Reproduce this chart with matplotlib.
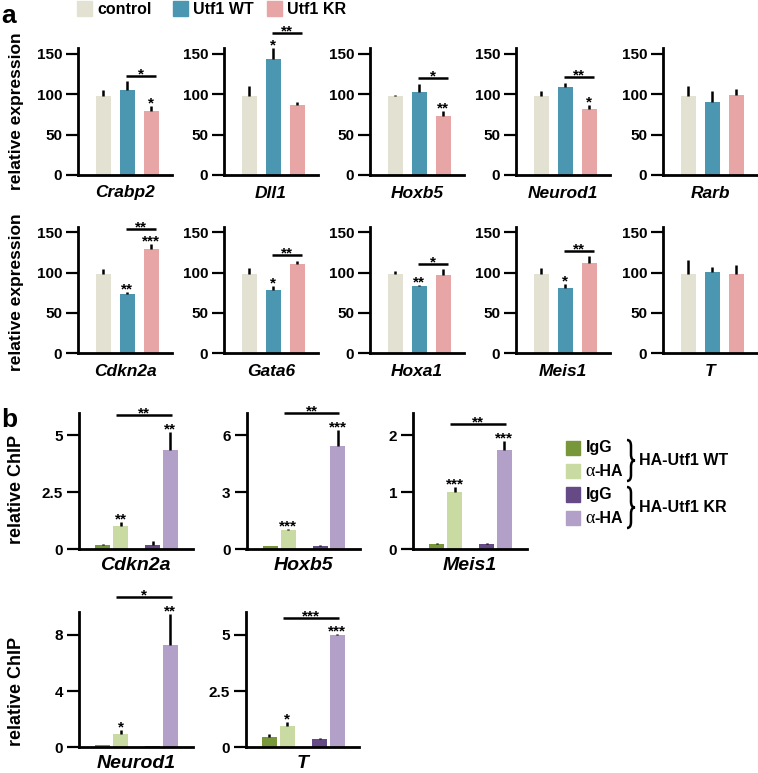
import matplotlib
matplotlib.use('Agg')
import matplotlib.pyplot as plt
from matplotlib.patches import Rectangle, PathPatch
from matplotlib.path import Path

plt.rcParams['font.family'] = ['Liberation Sans', 'DejaVu Sans']
plt.rcParams['font.weight'] = 'bold'

# ---- panel a data (relative expression) ----
a_groups = ['control', 'Utf1 WT', 'Utf1 KR']
a_colors = ['#e3e1d1', '#4b96b1', '#e7a6a5']

a1_genes = ['Crabp2', 'Dll1', 'Hoxb5', 'Neurod1', 'Rarb']
a1_control = [98, 98, 98, 98, 98]
a1_control_err = [7, 12, 1, 6, 12]
a1_wt = [105, 143, 102, 108.5, 90]
a1_wt_err = [11, 14, 11, 5.5, 14]
a1_kr = [79, 86, 73, 81, 98.5]
a1_kr_err = [6, 4, 6.5, 6, 8]
a1_wt_sig = ['', '*', '', '', '']
a1_kr_sig = ['*', '', '**', '*', '']
a1_pair_sig = ['*', '**', '*', '**', '']

a2_genes = ['Cdkn2a', 'Gata6', 'Hoxa1', 'Meis1', 'T']
a2_control = [98, 98, 98.5, 98, 98]
a2_control_err = [7, 8, 4, 8, 18]
a2_wt = [73.5, 78, 83.5, 80.5, 100.5]
a2_wt_err = [3, 5, 1, 5.5, 6]
a2_kr = [129, 111, 97.5, 111.5, 98]
a2_kr_err = [6, 4, 6.5, 9, 11]
a2_wt_sig = ['**', '*', '**', '*', '']
a2_kr_sig = ['***', '', '', '', '']
a2_pair_sig = ['**', '**', '*', '**', '']

a_yticks = [0, 50, 100, 150]

# ---- panel b data (relative ChIP) ----
b_groups = ['IgG', 'α-HA', 'IgG', 'α-HA']
b_colors = ['#77973a', '#c9dba2', '#664a86', '#b2a0c8']
b_genes = ['Cdkn2a', 'Hoxb5', 'Meis1', 'Neurod1', 'T']
b_igg_wt = [0.2, 0.18, 0.09, 0.16, 0.47]
b_igg_wt_err = [0.05, 0.02, 0.02, 0.03, 0.12]
b_ha_wt = [1.02, 1.0, 1.0, 0.94, 0.96]
b_ha_wt_err = [0.18, 0.08, 0.1, 0.3, 0.17]
b_igg_kr = [0.2, 0.18, 0.1, 0.08, 0.35]
b_igg_kr_err = [0.15, 0.05, 0.01, 0.01, 0.07]
b_ha_kr = [4.37, 5.43, 1.75, 7.3, 5.0]
b_ha_kr_err = [0.8, 0.87, 0.16, 2.2, 0.03]
b_ha_wt_sig = ['**', '***', '***', '*', '*']
b_ha_kr_sig = ['**', '***', '***', '**', '***']
b_pair_sig = ['**', '**', '**', '*', '***']
b_yticks = [[0, 2.5, 5], [0, 3, 6], [0, 1, 2], [0, 4, 8], [0, 2.5, 5]]
b_ymax = [6.0, 7.2, 2.4, 9.6, 6.0]

W, H = 758, 773
fig = plt.figure(figsize=(W / 100, H / 100), dpi=100)


def add_ax(left, top, right, bottom):
    return fig.add_axes([left / W, 1 - bottom / H, (right - left) / W, (bottom - top) / H])


def style(ax, yticks, ymax):
    for s in ['top', 'right']:
        ax.spines[s].set_visible(False)
    for s in ['left', 'bottom']:
        ax.spines[s].set_linewidth(2)
    ax.set_ylim(0, ymax)
    ax.set_yticks(yticks)
    ax.set_yticklabels([f'{t:g}' for t in yticks])
    ax.tick_params(axis='y', length=8.5, width=1.6, labelsize=11, pad=3)
    ax.tick_params(axis='x', length=0, labelbottom=False)
    ax.patch.set_alpha(0)


def mark(ax, x, y, txt, dy_px):
    if txt:
        ax.annotate(txt, xy=(x, y), xytext=(0, dy_px * 0.72), textcoords='offset points',
                    ha='center', va='baseline', fontsize=11, fontweight='bold',
                    annotation_clip=False)


def bars(ax, pos, vals, errs, colors, width):
    ax.bar(pos, vals, width=width, color=colors, zorder=2)
    ax.errorbar(pos, vals, yerr=[[0] * len(vals), errs], fmt='none', ecolor='black',
                elinewidth=1.8, capsize=0, zorder=3)


def px2data(ax, px):
    h = ax.get_position().height * H
    y0, y1 = ax.get_ylim()
    return px * (y1 - y0) / h


# ---- panel a ----
a_lefts = [78, 224, 370, 516, 663]
rows_a = [
    (48, 175, a1_genes, a1_control, a1_control_err, a1_wt, a1_wt_err, a1_kr, a1_kr_err,
     a1_wt_sig, a1_kr_sig, a1_pair_sig),
    (226.7, 353.3, a2_genes, a2_control, a2_control_err, a2_wt, a2_wt_err, a2_kr, a2_kr_err,
     a2_wt_sig, a2_kr_sig, a2_pair_sig),
]
pos_a = [0, 1, 2]
for top, bottom, genes, c, ce, wt, wte, kr, kre, wsig, ksig, psig in rows_a:
    for i, gene in enumerate(genes):
        ax = add_ax(a_lefts[i], top, a_lefts[i] + 94, bottom)
        style(ax, a_yticks, 157)
        ax.set_xlim(-1.06, 2.86)
        vals = [c[i], wt[i], kr[i]]
        errs = [ce[i], wte[i], kre[i]]
        bars(ax, pos_a, vals, errs, a_colors, 0.65)
        mark(ax, 1, wt[i] + wte[i], wsig[i], -1.5)
        mark(ax, 2, kr[i] + kre[i], ksig[i], -1.5)
        if psig[i]:
            tops = [wt[i] + wte[i], kr[i] + kre[i]]
            k = 0 if tops[0] >= tops[1] else 1
            has_star = bool([wsig[i], ksig[i]][k])
            yb = tops[k] + px2data(ax, 15 if has_star else 5.5)
            ax.plot([0.93, 2.2], [yb, yb], color='black', lw=1.8, clip_on=False,
                    solid_capstyle='butt')
            mark(ax, (0.93 + 2.2) / 2, yb, psig[i], -2.5)
        ax.annotate(gene, xy=(0.5, 0), xycoords='axes fraction', xytext=(0, -18 * 0.72),
                    textcoords='offset points', ha='center', va='center',
                    fontsize=12.5, fontweight='bold', fontstyle='italic')

for yc in [111.5, 292]:
    fig.text(17 / W, 1 - yc / H, 'relative expression', rotation=90, ha='center',
             va='center', fontsize=12.5, fontweight='bold')

# top legend
for x, lab, col in zip([77, 173, 267], a_groups, a_colors):
    fig.add_artist(Rectangle((x / W, 1 - 16 / H), 15 / W, 15 / H,
                             transform=fig.transFigure, color=col))
    fig.text((x + 20) / W, 1 - 9 / H, lab, ha='left', va='center', fontsize=11.5,
             fontweight='bold')

fig.text(1 / W, 1 - 23 / H, 'a', fontsize=19, fontweight='bold', va='baseline')
fig.text(1 / W, 1 - 427 / H, 'b', fontsize=19, fontweight='bold', va='baseline')

# ---- panel b ----
pos_b = [0, 1, 2.78, 3.75]
b_boxes = [(79, 412.7, 549.3), (246.5, 412.7, 549.3), (413, 412.7, 549.3),
           (79, 612.3, 747.3), (245.7, 612.3, 747.3)]
for i, gene in enumerate(b_genes):
    left, top, bottom = b_boxes[i]
    ax = add_ax(left, top, left + 113.5, bottom)
    style(ax, b_yticks[i], b_ymax[i])
    ax.set_xlim(-1.31, 4.97)
    vals = [b_igg_wt[i], b_ha_wt[i], b_igg_kr[i], b_ha_kr[i]]
    errs = [b_igg_wt_err[i], b_ha_wt_err[i], b_igg_kr_err[i], b_ha_kr_err[i]]
    bars(ax, pos_b, vals, errs, b_colors, 0.83)
    mark(ax, pos_b[1], vals[1] + errs[1], b_ha_wt_sig[i], -1.5)
    mark(ax, pos_b[3], vals[3] + errs[3], b_ha_kr_sig[i], -1.5)
    yb = max(v + e for v, e in zip(vals, errs)) + px2data(ax, 16.5)
    ax.plot([0.75, 3.83], [yb, yb], color='black', lw=1.8, clip_on=False,
            solid_capstyle='butt')
    mark(ax, (0.75 + 3.83) / 2, yb, b_pair_sig[i], -2.5)
    ax.annotate(gene, xy=(0.5, 0), xycoords='axes fraction', xytext=(0, -16 * 0.72),
                textcoords='offset points', ha='center', va='center',
                fontsize=14, fontweight='bold', fontstyle='italic')

for yc in [489, 691]:
    fig.text(17 / W, 1 - yc / H, 'relative ChIP', rotation=90, ha='center',
             va='center', fontsize=13, fontweight='bold')

# panel b legend
for k, (lab, col) in enumerate(zip(b_groups, b_colors)):
    yt = 440.7 + k * 23.4
    fig.add_artist(Rectangle((565.7 / W, 1 - (yt + 14.3) / H), 14.3 / W, 14.3 / H,
                             transform=fig.transFigure, color=col))
    yc = yt + 7.2
    if lab == 'IgG':
        fig.text(585.7 / W, 1 - yc / H, lab, va='center', fontsize=11.5, fontweight='bold')
    else:
        fig.text(585.7 / W, 1 - yc / H, 'α', va='center', fontsize=13,
                 family='Liberation Serif', fontweight='normal')
        fig.text(594.5 / W, 1 - yc / H, '-HA', va='center', fontsize=11.5, fontweight='bold')


def brace(x0, yt, yb, w):
    h = w * 0.5
    q = 6
    ym = (yt + yb) / 2
    pts = [(x0, yt), (x0 + h, yt), (x0 + h, yt + q),
           (x0 + h, ym - q),
           (x0 + h, ym), (x0 + w, ym),
           (x0 + h, ym), (x0 + h, ym + q),
           (x0 + h, yb - q),
           (x0 + h, yb), (x0, yb)]
    codes = [Path.MOVETO, Path.CURVE3, Path.CURVE3, Path.LINETO,
             Path.CURVE3, Path.CURVE3, Path.CURVE3, Path.CURVE3,
             Path.LINETO, Path.CURVE3, Path.CURVE3]
    verts = [(x / W, 1 - y / H) for x, y in pts]
    fig.add_artist(PathPatch(Path(verts, codes), transform=fig.transFigure,
                             fill=False, lw=1.8, color='black'))


brace(627, 440, 481, 8)
brace(627, 487, 528, 8)
fig.text(639 / W, 1 - 461 / H, 'HA-Utf1 WT', va='center', fontsize=11.5, fontweight='bold')
fig.text(639 / W, 1 - 507 / H, 'HA-Utf1 KR', va='center', fontsize=11.5, fontweight='bold')

fig.savefig('out.png', dpi=100)
